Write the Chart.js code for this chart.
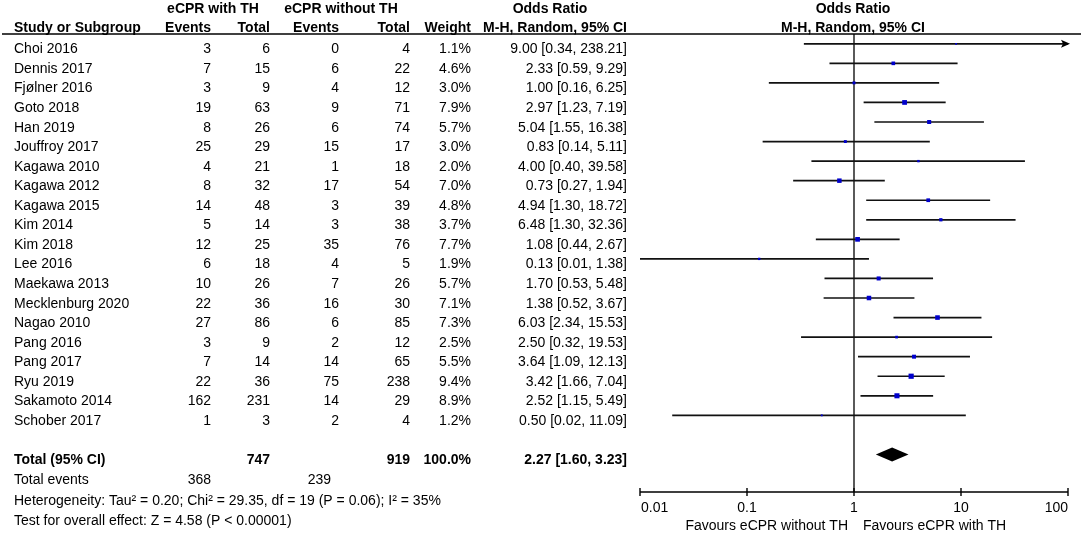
<!DOCTYPE html>
<html>
<head>
<meta charset="utf-8">
<title>Forest plot</title>
<script src="https://cdn.jsdelivr.net/npm/chart.js@4.4.0/dist/chart.umd.min.js"></script>
<style>
    html, body { margin: 0; padding: 0; background: #fff; }
    #wrap { width: 1084px; height: 533px; position: relative; }
</style>
</head>
<body>
<div id="wrap"><canvas id="forest"></canvas></div>
<script>
const studies = ['Choi 2016', 'Dennis 2017', 'Fjølner 2016', 'Goto 2018', 'Han 2019', 'Jouffroy 2017', 'Kagawa 2010', 'Kagawa 2012', 'Kagawa 2015', 'Kim 2014', 'Kim 2018', 'Lee 2016', 'Maekawa 2013', 'Mecklenburg 2020', 'Nagao 2010', 'Pang 2016', 'Pang 2017', 'Ryu 2019', 'Sakamoto 2014', 'Schober 2017'];
const eventsTH = [3, 7, 3, 19, 8, 25, 4, 8, 14, 5, 12, 6, 10, 22, 27, 3, 7, 22, 162, 1];
const totalTH = [6, 15, 9, 63, 26, 29, 21, 32, 48, 14, 25, 18, 26, 36, 86, 9, 14, 36, 231, 3];
const eventsNoTH = [0, 6, 4, 9, 6, 15, 1, 17, 3, 3, 35, 4, 7, 16, 6, 2, 14, 75, 14, 2];
const totalNoTH = [4, 22, 12, 71, 74, 17, 18, 54, 39, 38, 76, 5, 26, 30, 85, 12, 65, 238, 29, 4];
const weights = [1.1, 4.6, 3.0, 7.9, 5.7, 3.0, 2.0, 7.0, 4.8, 3.7, 7.7, 1.9, 5.7, 7.1, 7.3, 2.5, 5.5, 9.4, 8.9, 1.2];
const oddsRatio = [9.00, 2.33, 1.00, 2.97, 5.04, 0.83, 4.00, 0.73, 4.94, 6.48, 1.08, 0.13, 1.70, 1.38, 6.03, 2.50, 3.64, 3.42, 2.52, 0.50];
const ciLow = [0.34, 0.59, 0.16, 1.23, 1.55, 0.14, 0.40, 0.27, 1.30, 1.30, 0.44, 0.01, 0.53, 0.52, 2.34, 0.32, 1.09, 1.66, 1.15, 0.02];
const ciHigh = [238.21, 9.29, 6.25, 7.19, 16.38, 5.11, 39.58, 1.94, 18.72, 32.36, 2.67, 1.38, 5.48, 3.67, 15.53, 19.53, 12.13, 7.04, 5.49, 11.09];

// pooled result
const pooled = { or: 2.27, low: 1.60, high: 3.23, totalTH: 747, totalNoTH: 919, eventsTH: 368, eventsNoTH: 239 };
const totalRow = 21;

const oddsTicks = [0.01, 0.1, 1, 10, 100];
const oddsTickLabels = ['0.01', '0.1', '1', '10', '100'];

const FONT = '"Liberation Sans", Arial, sans-serif';
const REG = '14px ' + FONT;
const BOLD = 'bold 14px ' + FONT;

// right edges of the table columns
const col = { name: 14, evTH: 211, totTH: 270, evNo: 339, totNo: 410, weight: 471, or: 627 };

const fmt2 = v => v.toFixed(2);
const fmtCI = (o, l, h) => fmt2(o) + ' [' + fmt2(l) + ', ' + fmt2(h) + ']';

const text = (ctx, str, x, y, align, font) => {
    ctx.font = font || REG;
    ctx.textAlign = align || 'left';
    ctx.fillText(str, x, y);
}

const forestDecor = {
    id: 'forestDecor',
    beforeDatasetsDraw(chart) {
        const { ctx, chartArea, scales: { x } } = chart;
        const x1 = x.getPixelForValue(1);
        ctx.save();
        ctx.strokeStyle = '#000';
        ctx.lineWidth = 1.3;
        ctx.beginPath();
        ctx.moveTo(x1, chartArea.top);
        ctx.lineTo(x1, chartArea.bottom);
        ctx.stroke();
        ctx.restore();
    },
    afterDraw(chart) {
        const { ctx, chartArea, scales: { x, y } } = chart;
        const xMax = oddsTicks[oddsTicks.length - 1];
        ctx.save();
        ctx.fillStyle = '#000';
        ctx.strokeStyle = '#000';
        ctx.textBaseline = 'alphabetic';

        // arrows for intervals running off the scale
        ciHigh.forEach((h, i) => {
            if (h <= xMax) return;
            const px = x.getPixelForValue(xMax) + 2;
            const py = y.getPixelForValue(i);
            ctx.beginPath();
            ctx.moveTo(px, py);
            ctx.lineTo(px - 9, py - 4);
            ctx.lineTo(px - 7, py);
            ctx.lineTo(px - 9, py + 4);
            ctx.closePath();
            ctx.fill();
        });

        // pooled diamond
        const dy = y.getPixelForValue(totalRow);
        ctx.beginPath();
        ctx.moveTo(x.getPixelForValue(pooled.low), dy);
        ctx.lineTo(x.getPixelForValue(pooled.or), dy - 7);
        ctx.lineTo(x.getPixelForValue(pooled.high), dy);
        ctx.lineTo(x.getPixelForValue(pooled.or), dy + 7);
        ctx.closePath();
        ctx.fill();

        // header
        ctx.lineWidth = 1.4;
        ctx.beginPath();
        ctx.moveTo(2, chartArea.top);
        ctx.lineTo(1081, chartArea.top);
        ctx.stroke();

        const xc = x.getPixelForValue(1) - 1;
        text(ctx, 'eCPR with TH', 213, 13, 'center', BOLD);
        text(ctx, 'eCPR without TH', 341, 13, 'center', BOLD);
        text(ctx, 'Odds Ratio', 550, 13, 'center', BOLD);
        text(ctx, 'Odds Ratio', xc, 13, 'center', BOLD);
        text(ctx, 'Study or Subgroup', col.name, 32, 'left', BOLD);
        text(ctx, 'Events', col.evTH, 32, 'right', BOLD);
        text(ctx, 'Total', col.totTH, 32, 'right', BOLD);
        text(ctx, 'Events', col.evNo, 32, 'right', BOLD);
        text(ctx, 'Total', col.totNo, 32, 'right', BOLD);
        text(ctx, 'Weight', col.weight, 32, 'right', BOLD);
        text(ctx, 'M-H, Random, 95% CI', col.or, 32, 'right', BOLD);
        text(ctx, 'M-H, Random, 95% CI', xc, 32, 'center', BOLD);

        // study rows
        studies.forEach((s, i) => {
            const by = y.getPixelForValue(i) + 9.6;
            text(ctx, s, col.name, by);
            text(ctx, String(eventsTH[i]), col.evTH, by, 'right');
            text(ctx, String(totalTH[i]), col.totTH, by, 'right');
            text(ctx, String(eventsNoTH[i]), col.evNo, by, 'right');
            text(ctx, String(totalNoTH[i]), col.totNo, by, 'right');
            text(ctx, weights[i].toFixed(1) + '%', col.weight, by, 'right');
            text(ctx, fmtCI(oddsRatio[i], ciLow[i], ciHigh[i]), col.or, by, 'right');
        });

        // totals
        const ty = dy + 10;
        text(ctx, 'Total (95% CI)', col.name, ty, 'left', BOLD);
        text(ctx, String(pooled.totalTH), col.totTH, ty, 'right', BOLD);
        text(ctx, String(pooled.totalNoTH), col.totNo, ty, 'right', BOLD);
        text(ctx, '100.0%', col.weight, ty, 'right', BOLD);
        text(ctx, fmtCI(pooled.or, pooled.low, pooled.high), col.or, ty, 'right', BOLD);
        text(ctx, 'Total events', col.name, ty + 20);
        text(ctx, String(pooled.eventsTH), col.evTH, ty + 20, 'right');
        text(ctx, String(pooled.eventsNoTH), 331, ty + 20, 'right');
        text(ctx, 'Heterogeneity: Tau² = 0.20; Chi² = 29.35, df = 19 (P = 0.06); I² = 35%', col.name, ty + 41);
        text(ctx, 'Test for overall effect: Z = 4.58 (P < 0.00001)', col.name, ty + 61);

        // x axis
        const ay = chartArea.bottom;
        ctx.lineWidth = 1.4;
        ctx.beginPath();
        ctx.moveTo(x.getPixelForValue(oddsTicks[0]), ay);
        ctx.lineTo(x.getPixelForValue(xMax), ay);
        oddsTicks.forEach(t => {
            const px = x.getPixelForValue(t);
            ctx.moveTo(px, ay - 4);
            ctx.lineTo(px, ay + 4);
        });
        ctx.stroke();
        oddsTicks.forEach((t, i) => {
            const px = x.getPixelForValue(t);
            const align = i === 0 ? 'left' : (i === oddsTicks.length - 1 ? 'right' : 'center');
            text(ctx, oddsTickLabels[i], px + (i === 0 ? 1 : 0), ay + 19.5, align);
        });
        const x1 = x.getPixelForValue(1);
        text(ctx, 'Favours eCPR without TH', x1 - 6, ay + 38, 'right');
        text(ctx, 'Favours eCPR with TH', x1 + 9, ay + 38, 'left');
        ctx.restore();
    }
};

const ciDatasets = studies.map((s, i) => ({
    label: s,
    data: [{ x: ciLow[i], y: i }, { x: ciHigh[i], y: i }],
    showLine: true,
    borderColor: '#111',
    borderWidth: 1.7,
    pointRadius: 0,
    order: 2
}));

const markerDataset = {
    label: 'Odds ratio',
    data: oddsRatio.map((v, i) => ({ x: v, y: i })),
    pointStyle: 'rect',
    pointRadius: weights.map(w => Math.sqrt(w) * 1.2),
    backgroundColor: '#0000cc',
    borderColor: '#0000cc',
    borderWidth: 0,
    order: 1
};

new Chart(document.getElementById('forest'), {
    type: 'scatter',
    data: { datasets: [markerDataset, ...ciDatasets] },
    options: {
        responsive: true,
        maintainAspectRatio: false,
        animation: false,
        layout: { padding: { left: 640, right: 16, top: 34, bottom: 41 } },
        plugins: {
            legend: { display: false },
            tooltip: { enabled: false }
        },
        scales: {
            x: { type: 'logarithmic', min: oddsTicks[0], max: oddsTicks[oddsTicks.length - 1], display: false },
            y: { type: 'linear', reverse: true, min: -0.5, max: 22.92, display: false }
        }
    },
    plugins: [forestDecor]
});
</script>
</body>
</html>
